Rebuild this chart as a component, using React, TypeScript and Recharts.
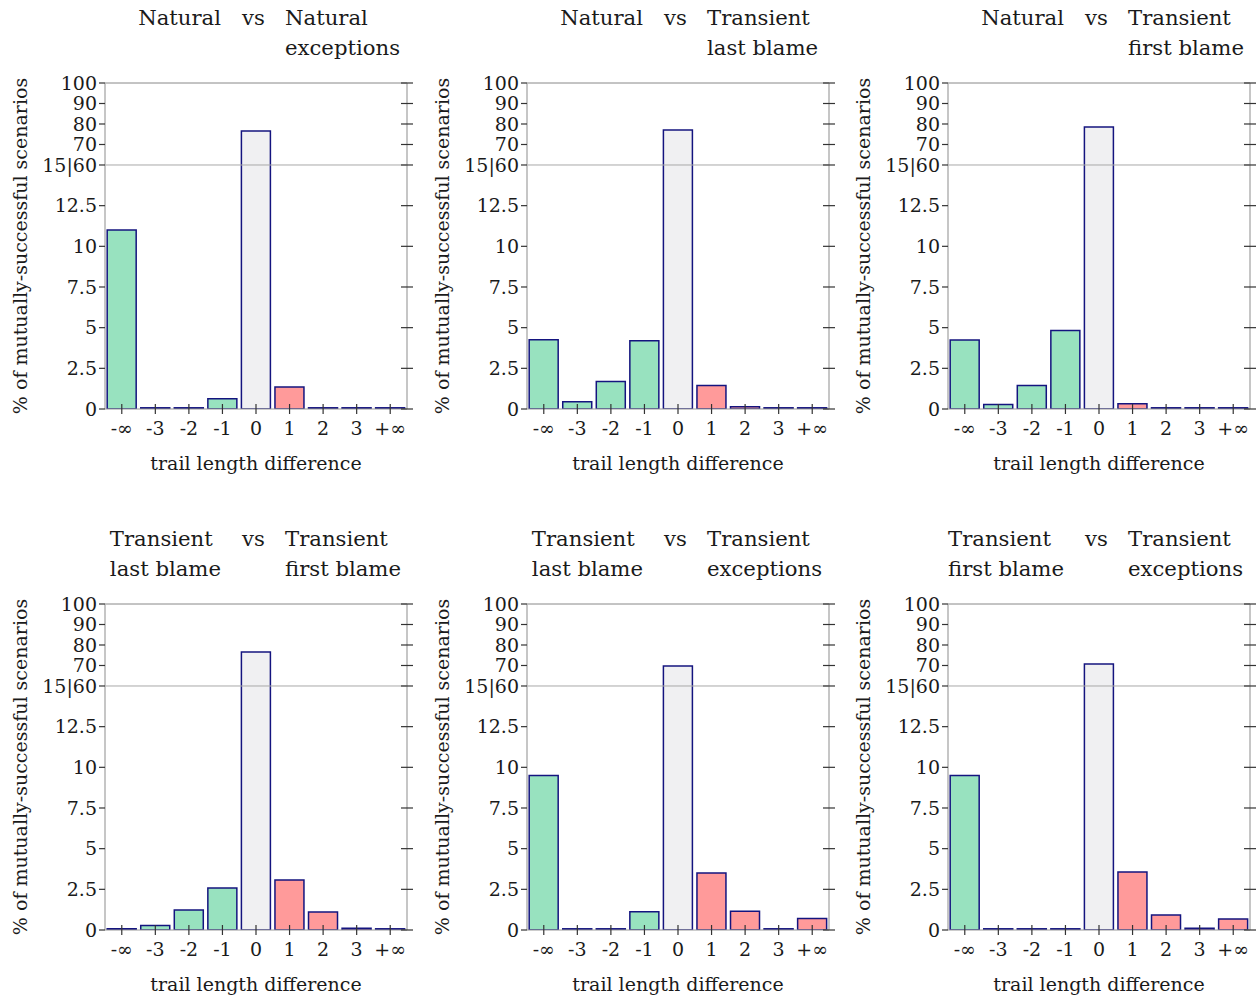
import React from 'react';
import { BarChart, Bar, XAxis, YAxis, ReferenceLine, Cell, Label } from 'recharts';

const categories = ['-∞', '-3', '-2', '-1', '0', '1', '2', '3', '+∞'];
const categorySigns = [-1, -1, -1, -1, 0, 1, 1, 1, 1];

const natVsNatExc = [11.0, 0, 0, 0.63, 76.6, 1.35, 0, 0.03, 0];
const natVsTransLast = [4.26, 0.45, 1.69, 4.2, 77.1, 1.45, 0.14, 0, 0.05];
const natVsTransFirst = [4.24, 0.28, 1.44, 4.82, 78.5, 0.33, 0, 0, 0.05];
const transLastVsTransFirst = [0, 0.28, 1.23, 2.58, 76.6, 3.07, 1.1, 0.1, 0];
const transLastVsTransExc = [9.5, 0, 0.05, 1.12, 69.8, 3.5, 1.16, 0.05, 0.7];
const transFirstVsTransExc = [9.5, 0, 0, 0.03, 70.7, 3.56, 0.92, 0.1, 0.68];

const yTickValues = [0, 2.5, 5, 7.5, 10, 12.5, 60, 70, 80, 90, 100];
const yTickLabels = ['0', '2.5', '5', '7.5', '10', '12.5', '15|60', '70', '80', '90', '100'];

const panelTitles = [
  { left: ['Natural'], right: ['Natural', 'exceptions'], values: natVsNatExc },
  { left: ['Natural'], right: ['Transient', 'last blame'], values: natVsTransLast },
  { left: ['Natural'], right: ['Transient', 'first blame'], values: natVsTransFirst },
  { left: ['Transient', 'last blame'], right: ['Transient', 'first blame'], values: transLastVsTransFirst },
  { left: ['Transient', 'last blame'], right: ['Transient', 'exceptions'], values: transLastVsTransExc },
  { left: ['Transient', 'first blame'], right: ['Transient', 'exceptions'], values: transFirstVsTransExc },
];

const BREAK_LOW = 15;
const BREAK_HIGH = 60;
const UPPER_SCALE = 5.04 / 40;
const toAxis = (v: number) => (v <= BREAK_LOW ? v : BREAK_LOW + (v - BREAK_HIGH) * UPPER_SCALE);
const Y_TOP = toAxis(100);
const yTicksAxis = yTickValues.map(toAxis);

const FONT = "'DejaVu Serif', serif";
const TEXT = '#1a1a1a';
const FILLS: Record<number, string> = { [-1]: '#98e2bf', 0: '#f0f0f2', 1: '#ff9a9a' };

const PLOT_LEFT = 105;
const PLOT_W = 302;
const PLOT_TOP = 83;
const PLOT_H = 326;
const TICK_FS = 19;
const TITLE_FS = 21.2;

const XTick = (props: any) => {
  const { x, y, payload } = props;
  return (
    <g>
      <line x1={x} x2={x} y1={y - 5} y2={y + 5} stroke="#333" strokeWidth={1.2} />
      <text x={x} y={y + 26} textAnchor="middle" fontSize={TICK_FS} fontFamily={FONT} fill={TEXT}>
        {payload.value}
      </text>
    </g>
  );
};

const RightTick = (props: any) => {
  const { x, y } = props;
  return <line x1={x - 6} x2={x + 6} y1={y} y2={y} stroke="#333" strokeWidth={1.2} />;
};

function Panel({ idx, px, py }: { idx: number; px: number; py: number }) {
  const p = panelTitles[idx];
  const data = categories.map((c, i) => ({ cat: c, v: toAxis(p.values[i]), sign: categorySigns[i] }));
  const lineStyle: React.CSSProperties = { whiteSpace: 'nowrap', height: 30, lineHeight: '30px' };
  return (
    <div style={{ position: 'absolute', left: px, top: py, width: 430, height: 521 }}>
      <BarChart
        width={430}
        height={500}
        data={data}
        margin={{ top: PLOT_TOP, right: 3, bottom: 0, left: 0 }}
        barCategoryGap="6.5%"
      >
        <ReferenceLine yAxisId="l" y={Y_TOP} stroke="#888" strokeWidth={1} />
        <ReferenceLine yAxisId="l" y={BREAK_LOW} stroke="#a8a8a8" strokeWidth={1} />
        <XAxis
          dataKey="cat"
          height={91}
          interval={0}
          tickSize={0}
          tickMargin={0}
          tickLine={false}
          axisLine={{ stroke: '#999', strokeWidth: 1 }}
          tick={<XTick />}
        >
          <Label
            content={() => (
              <text
                x={PLOT_LEFT + PLOT_W / 2}
                y={470}
                textAnchor="middle"
                fontSize={TICK_FS}
                fontFamily={FONT}
                fill={TEXT}
              >
                trail length difference
              </text>
            )}
          />
        </XAxis>
        <YAxis
          yAxisId="l"
          type="number"
          width={PLOT_LEFT}
          domain={[0, Y_TOP]}
          ticks={yTicksAxis}
          interval={0}
          allowDataOverflow
          tickSize={6}
          tickMargin={2}
          tickFormatter={(v: number, i: number) => yTickLabels[i]}
          tick={{ fontSize: TICK_FS, fontFamily: FONT, fill: TEXT }}
          tickLine={{ stroke: '#333', strokeWidth: 1.2 }}
          axisLine={{ stroke: '#b8b8b8', strokeWidth: 1.6 }}
        >
          <Label
            content={() => {
              const cx = 27;
              const cy = PLOT_TOP + PLOT_H / 2;
              return (
                <text
                  x={cx}
                  y={cy}
                  transform={`rotate(-90 ${cx} ${cy})`}
                  textAnchor="middle"
                  fontSize={TICK_FS}
                  fontFamily={FONT}
                  fill={TEXT}
                >
                  % of mutually-successful scenarios
                </text>
              );
            }}
          />
        </YAxis>
        <YAxis
          yAxisId="r"
          orientation="right"
          type="number"
          width={20}
          domain={[0, Y_TOP]}
          ticks={yTicksAxis}
          interval={0}
          allowDataOverflow
          tickSize={0}
          tickMargin={0}
          tickLine={false}
          tick={<RightTick />}
          axisLine={{ stroke: '#b8b8b8', strokeWidth: 1.6 }}
        />
        <Bar
          yAxisId="l"
          dataKey="v"
          isAnimationActive={false}
          stroke="#14147f"
          strokeWidth={1.5}
          minPointSize={1.2}
        >
          {data.map((d, i) => (
            <Cell key={i} fill={FILLS[d.sign]} />
          ))}
        </Bar>
      </BarChart>
      <div
        style={{
          position: 'absolute',
          left: PLOT_LEFT + 116,
          top: 3,
          transform: 'translateX(-100%)',
          width: 'max-content',
          fontFamily: FONT,
          fontSize: TITLE_FS,
          color: TEXT,
          textAlign: 'left',
        }}
      >
        {p.left.map((t, i) => (
          <div key={i} style={lineStyle}>{t}</div>
        ))}
      </div>
      <div style={{ position: 'absolute', left: PLOT_LEFT + 137, top: 3, fontFamily: FONT, fontSize: TITLE_FS, color: TEXT }}>
        <div style={lineStyle}>vs</div>
      </div>
      <div style={{ position: 'absolute', left: PLOT_LEFT + 180, top: 3, fontFamily: FONT, fontSize: TITLE_FS, color: TEXT }}>
        {p.right.map((t, i) => (
          <div key={i} style={lineStyle}>{t}</div>
        ))}
      </div>
    </div>
  );
}

const colX = [0, 422, 843];
const rowY = [0, 521];

export default function App() {
  return (
    <div style={{ position: 'absolute', left: 0, top: 0, width: 1256, height: 998, background: '#fff', overflow: 'hidden' }}>
      {panelTitles.map((_, i) => (
        <Panel key={i} idx={i} px={colX[i % 3]} py={rowY[Math.floor(i / 3)]} />
      ))}
    </div>
  );
}
